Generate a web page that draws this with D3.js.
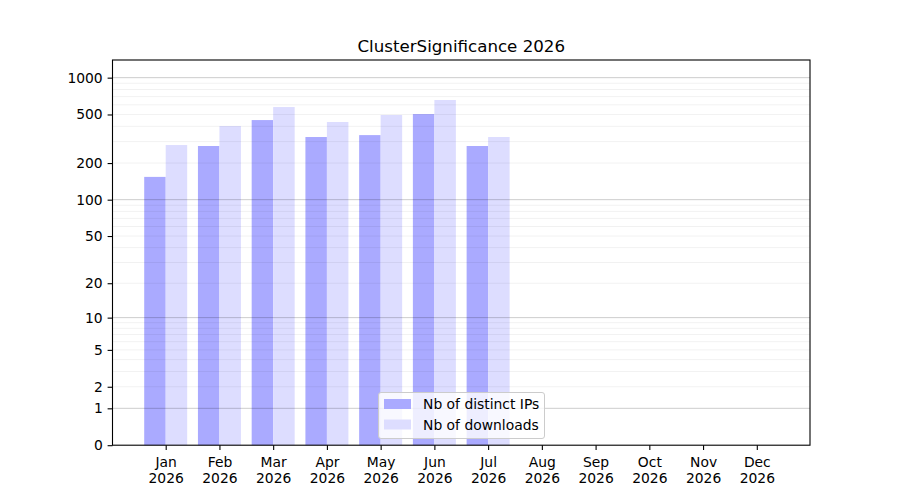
<!DOCTYPE html>
<html><head><meta charset="utf-8">
<script src="https://cdn.jsdelivr.net/npm/d3@7"></script>
<style>body{margin:0;background:#fff}svg{display:block}text{font-family:"DejaVu Sans",sans-serif}</style>
</head><body><svg id="c" width="900" height="500"></svg>
<script>
const months = ["Jan","Feb","Mar","Apr","May","Jun","Jul","Aug","Sep","Oct","Nov","Dec"];
const year = "2026";
const distinctIPs = [154, 276, 450, 327, 339, 504, 276, 0, 0, 0, 0, 0];
const downloads = [281, 402, 575, 434, 495, 657, 327, 0, 0, 0, 0, 0];
const yTicks = [0, 1, 2, 5, 10, 20, 50, 100, 200, 500, 1000];
const majorGrid = [1, 10, 100, 1000];
const minorGrid = [2,3,4,5,6,7,8,9,20,30,40,50,60,70,80,90,200,300,400,500,600,700,800,900];
const seriesNames = ["Nb of distinct IPs", "Nb of downloads"];
const title = "ClusterSignificance 2026";

const L = 112.5, R = 810, T = 60, B = 445.2;
const FS = "13.89px";
const svg = d3.select("#c");
const x = d3.scaleLinear().domain([-0.99, 11.99]).range([L, R]);
const y = d3.scaleSymlog().constant(1).domain([0, 1394]).range([B, T]);
const bw = x(0.4) - x(0);
const colors = ["#aaaaff", "#ddddff"];

// bars
const g = svg.append("g");
g.selectAll("rect.a").data(distinctIPs).join("rect")
  .attr("x", (d, i) => x(i - 0.4)).attr("width", bw)
  .attr("y", d => y(d)).attr("height", d => B - y(d)).attr("fill", colors[0]);
g.selectAll("rect.b").data(downloads).join("rect")
  .attr("x", (d, i) => x(i)).attr("width", bw)
  .attr("y", d => y(d)).attr("height", d => B - y(d)).attr("fill", colors[1]);

// grid (drawn over bars)
svg.append("g").selectAll("line").data(minorGrid).join("line")
  .attr("x1", L).attr("x2", R).attr("y1", d => y(d)).attr("y2", d => y(d))
  .attr("stroke", "#000").attr("stroke-opacity", 0.07).attr("stroke-width", 0.8);
svg.append("g").selectAll("line").data(majorGrid).join("line")
  .attr("x1", L).attr("x2", R).attr("y1", d => y(d)).attr("y2", d => y(d))
  .attr("stroke", "#000").attr("stroke-opacity", 0.2).attr("stroke-width", 1);

// frame
svg.append("rect").attr("x", L).attr("y", T).attr("width", R - L).attr("height", B - T)
  .attr("fill", "none").attr("stroke", "#000").attr("stroke-width", 1.1);

// y axis
const ya = svg.append("g").attr("transform", `translate(${L},0)`)
  .call(d3.axisLeft(y).tickValues(yTicks).tickSize(4.9).tickPadding(4.9).tickFormat(d3.format("d")));
ya.select(".domain").remove();
ya.selectAll("line").attr("stroke", "#000").attr("stroke-width", 1.1);
ya.selectAll("text").attr("font-size", FS).attr("fill", "#000").attr("font-family", "DejaVu Sans");

// x axis
const xa = svg.append("g").attr("transform", `translate(0,${B})`)
  .call(d3.axisBottom(x).tickValues(d3.range(12)).tickSize(4.9).tickFormat(""));
xa.select(".domain").remove();
xa.selectAll("line").attr("stroke", "#000").attr("stroke-width", 1.1);
xa.selectAll(".tick").each(function(d, i) {
  const t = d3.select(this).append("text").attr("text-anchor", "middle")
    .attr("font-size", FS).attr("fill", "#000").attr("font-family", "DejaVu Sans");
  t.append("tspan").attr("x", 0).attr("y", 22).text(months[i]);
  t.append("tspan").attr("x", 0).attr("y", 38).text(year);
});

// title
svg.append("text").attr("x", (L + R) / 2).attr("y", 52).attr("text-anchor", "middle")
  .attr("font-size", "16.67px").text(title);

// legend
const lg = svg.append("g");
lg.append("rect").attr("x", 378.5).attr("y", 392.5).attr("width", 166).attr("height", 46)
  .attr("rx", 2.5).attr("fill", "#fff").attr("fill-opacity", 0.8)
  .attr("stroke", "#cccccc").attr("stroke-width", 1);
seriesNames.forEach((s, i) => {
  lg.append("rect").attr("x", 384).attr("y", 399 + i * 20.5).attr("width", 27).attr("height", 10)
    .attr("fill", colors[i]);
  lg.append("text").attr("x", 423).attr("y", 409 + i * 20.5).attr("font-size", FS).text(s);
});
</script></body></html>
